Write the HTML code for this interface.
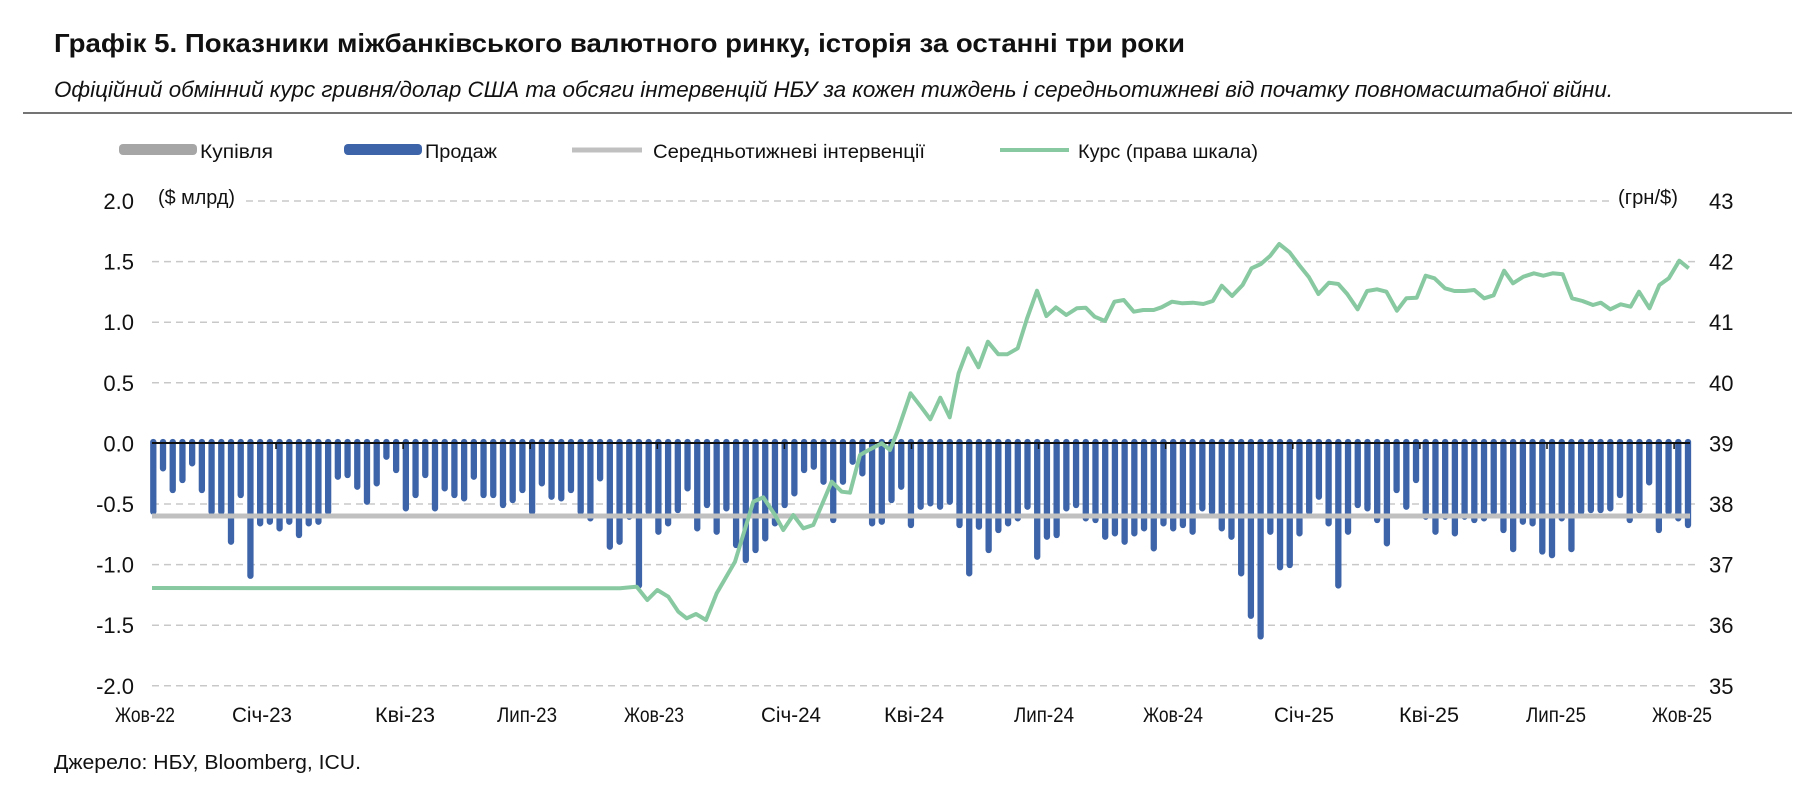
<!DOCTYPE html>
<html><head><meta charset="utf-8">
<style>
html,body{margin:0;padding:0;background:#fff;}
svg{display:block;}
text{font-family:"Liberation Sans",Arial,sans-serif;fill:#111;}
</style></head>
<body>
<svg id="c" width="1803" height="787" viewBox="0 0 1803 787" xmlns="http://www.w3.org/2000/svg">
<text x="54" y="52" font-size="26" font-weight="bold" textLength="1131" lengthAdjust="spacingAndGlyphs">Графік 5. Показники міжбанківського валютного ринку, історія за останні три роки</text>
<text x="54" y="97" font-size="22" font-style="italic" fill="#222" textLength="1559" lengthAdjust="spacingAndGlyphs">Офіційний обмінний курс гривня/долар США та обсяги інтервенцій НБУ за кожен тиждень і середньотижневі від початку повномасштабної війни.</text>
<line x1="23" y1="113" x2="1792" y2="113" stroke="#222" stroke-width="1.2"/>
<!-- legend -->
<rect x="119" y="144" width="78" height="11" rx="4" fill="#a6a6a6"/>
<text x="200" y="158" font-size="19" textLength="73" lengthAdjust="spacingAndGlyphs">Купівля</text>
<rect x="344" y="144" width="78" height="11" rx="4" fill="#3d64a8"/>
<text x="425" y="158" font-size="19" textLength="72" lengthAdjust="spacingAndGlyphs">Продаж</text>
<line x1="572" y1="150" x2="642" y2="150" stroke="#c0c0c0" stroke-width="5"/>
<text x="653" y="158" font-size="19" textLength="272" lengthAdjust="spacingAndGlyphs">Середньотижневі інтервенції</text>
<line x1="1000" y1="150" x2="1069" y2="150" stroke="#88c9a1" stroke-width="4"/>
<text x="1078" y="158" font-size="19" textLength="180" lengthAdjust="spacingAndGlyphs">Курс (права шкала)</text>
<text x="158" y="204" font-size="20" textLength="77" lengthAdjust="spacingAndGlyphs">($ млрд)</text>
<text x="1618" y="204" font-size="20" textLength="60" lengthAdjust="spacingAndGlyphs">(грн/$)</text>
<text x="54" y="769" font-size="20" textLength="307" lengthAdjust="spacingAndGlyphs">Джерело: НБУ, Bloomberg, ICU.</text>
<g id="g"></g>
</svg>
<script>
const NS="http://www.w3.org/2000/svg",g=document.getElementById('g');
function el(t,a,txt){const e=document.createElementNS(NS,t);for(const k in a)e.setAttribute(k,a[k]);if(txt!==undefined)e.textContent=txt;g.appendChild(e);return e;}
const X0=152,X1=1700,Y0=443,U=121.2;
const ll=["2.0","1.5","1.0","0.5","0.0","-0.5","-1.0","-1.5","-2.0"];
const rl=["43","42","41","40","39","38","37","36","35"];
for(let i=0;i<9;i++){const y=201+i*60.6;
 if(i===0)el('line',{x1:246,y1:y,x2:1610,y2:y,stroke:'#c8c8c8','stroke-width':1.5,'stroke-dasharray':'7,5'});
 else if(i!==4)el('line',{x1:X0,y1:y,x2:X1,y2:y,stroke:'#c8c8c8','stroke-width':1.5,'stroke-dasharray':'7,5'});
 el('text',{x:134,y:y+8,'font-size':22,'text-anchor':'end'},ll[i]);
 el('text',{x:1709,y:y+8,'font-size':22},rl[i]);}
const v=[];
const z1=[430,300,365,335,285,365,430,430,520,380,'-1.12',465,460,480,460,500,465,460,430,325,320,355,400,345,265,305,420,380,320,420,360,380,390,325,380,380,410,395,365,430,345,385,390,365,430];
const z2=[450,330,535,520,445,'-1.2',430,490,465,425,360,480,410,490,420,530,575,545,510,465,410,375,305,295,340,455,340,280,315,465,460,395,355,470,415,405,415,400,470,'-1.1',475,545,485,465,450,415];
const z3=[565,505,500,420,410,450,455,505,495,520,495,480,540,465,480,470,490,420,430,480,505,'-1.1','-1.45','-1.62',490,'-1.05',590,495,430,385,465,'-1.2',490,410,420,455,525,365,415,335,445,490,445,495,445,455];
const z7=[420,400,455,'-0.9',430,435,'-0.92','-0.95',420,'-0.9',400,395,395,390,350,425,395,312,455,400,420,440];
for(const a of [z1,z2,z3])for(const q of a)v.push(typeof q==='string'?parseFloat(q):-(q-215)/363.6);
for(const q of z7)v.push(typeof q==='string'?parseFloat(q):-(q-185)/363.6);
const n=v.length,bx0=153.3,pitch=(1688-bx0)/(n-1);
for(let i=0;i<n;i++){const x=bx0+i*pitch,y=Y0-v[i]*U;
 el('line',{x1:x,y1:Y0-1,x2:x,y2:y-3,stroke:'#3d64a8','stroke-width':6.3,'stroke-linecap':'round'});}
el('line',{x1:X0,y1:516,x2:1690,y2:516,stroke:'#c0c0c0','stroke-width':5});
el('line',{x1:X0,y1:Y0,x2:1690,y2:Y0,stroke:'#111','stroke-width':2});
for(let k=-6;k<7;k++){const x=911.5+k*127.1;if(x>X0&&x<1695)el('line',{x1:x,y1:Y0,x2:x,y2:Y0+6,stroke:'#111','stroke-width':1.5});}
const xl=[["Жов-22",145],["Січ-23",262],["Кві-23",405],["Лип-23",527],["Жов-23",654],["Січ-24",791],["Кві-24",914],["Лип-24",1044],["Жов-24",1173],["Січ-25",1304],["Кві-25",1429],["Лип-25",1556],["Жов-25",1682]];
for(const [t,x] of xl)el('text',{x:x,y:722,'font-size':21,'text-anchor':'middle',textLength:60,lengthAdjust:'spacingAndGlyphs'},t);
let p=[[152,588],[620,588.3],[636.7,586.7],[647.3,600],[657.3,590],[668.3,596.7],[678.3,611.7],[686.7,618.3],[696,614],[706,620],[716.7,593.3],[735,561.7],[753.3,501.7],[763.3,497.3],[775,515],[783.3,530],[793.3,515],[803.3,528.3],[813.3,525],[831.7,481.7],[841.7,491.7],[850,492.7],[860,455],[870,449.3],[881.7,443.3],[890,450],[898,430]];
const z9=[[20,520],[40,560],[58,598],[77,533],[95,592],[112,460],[130,385],[150,442],[168,365],[188,403],[205,403],[225,385],[243,295],[262,212],[280,288],[298,262],[318,285],[338,265],[355,263],[372,290],[392,303],[410,245],[428,240],[447,275],[465,270],[485,270],[500,262],[520,245],[540,250],[560,248],[580,252],[598,243],[615,197],[635,228],[655,195],[672,145],[690,132],[708,107],[725,72],[745,97],[763,135],[782,172],[800,222],[820,188],[838,192],[855,222],[875,268],[893,213],[912,208],[930,215],[950,272],[968,235],[988,233],[1005,167],[1022,175],[1042,205],[1060,213],[1080,213],[1098,210],[1117,235],[1135,226],[1155,152],[1172,190],[1192,170],[1212,160],[1230,167],[1248,160],[1267,163],[1285,235],[1305,243],[1325,255],[1340,248],[1358,268],[1378,253],[1397,260],[1413,215],[1433,265],[1452,195],[1470,175],[1490,122],[1508,145]];
for(const [a,b] of z9)p.push([900+a/1.912,220+b/3]);
el('polyline',{points:p.map(q=>q[0].toFixed(1)+','+q[1].toFixed(1)).join(' '),fill:'none',stroke:'#88c9a1','stroke-width':4,'stroke-linejoin':'round'});
</script>
</body></html>
